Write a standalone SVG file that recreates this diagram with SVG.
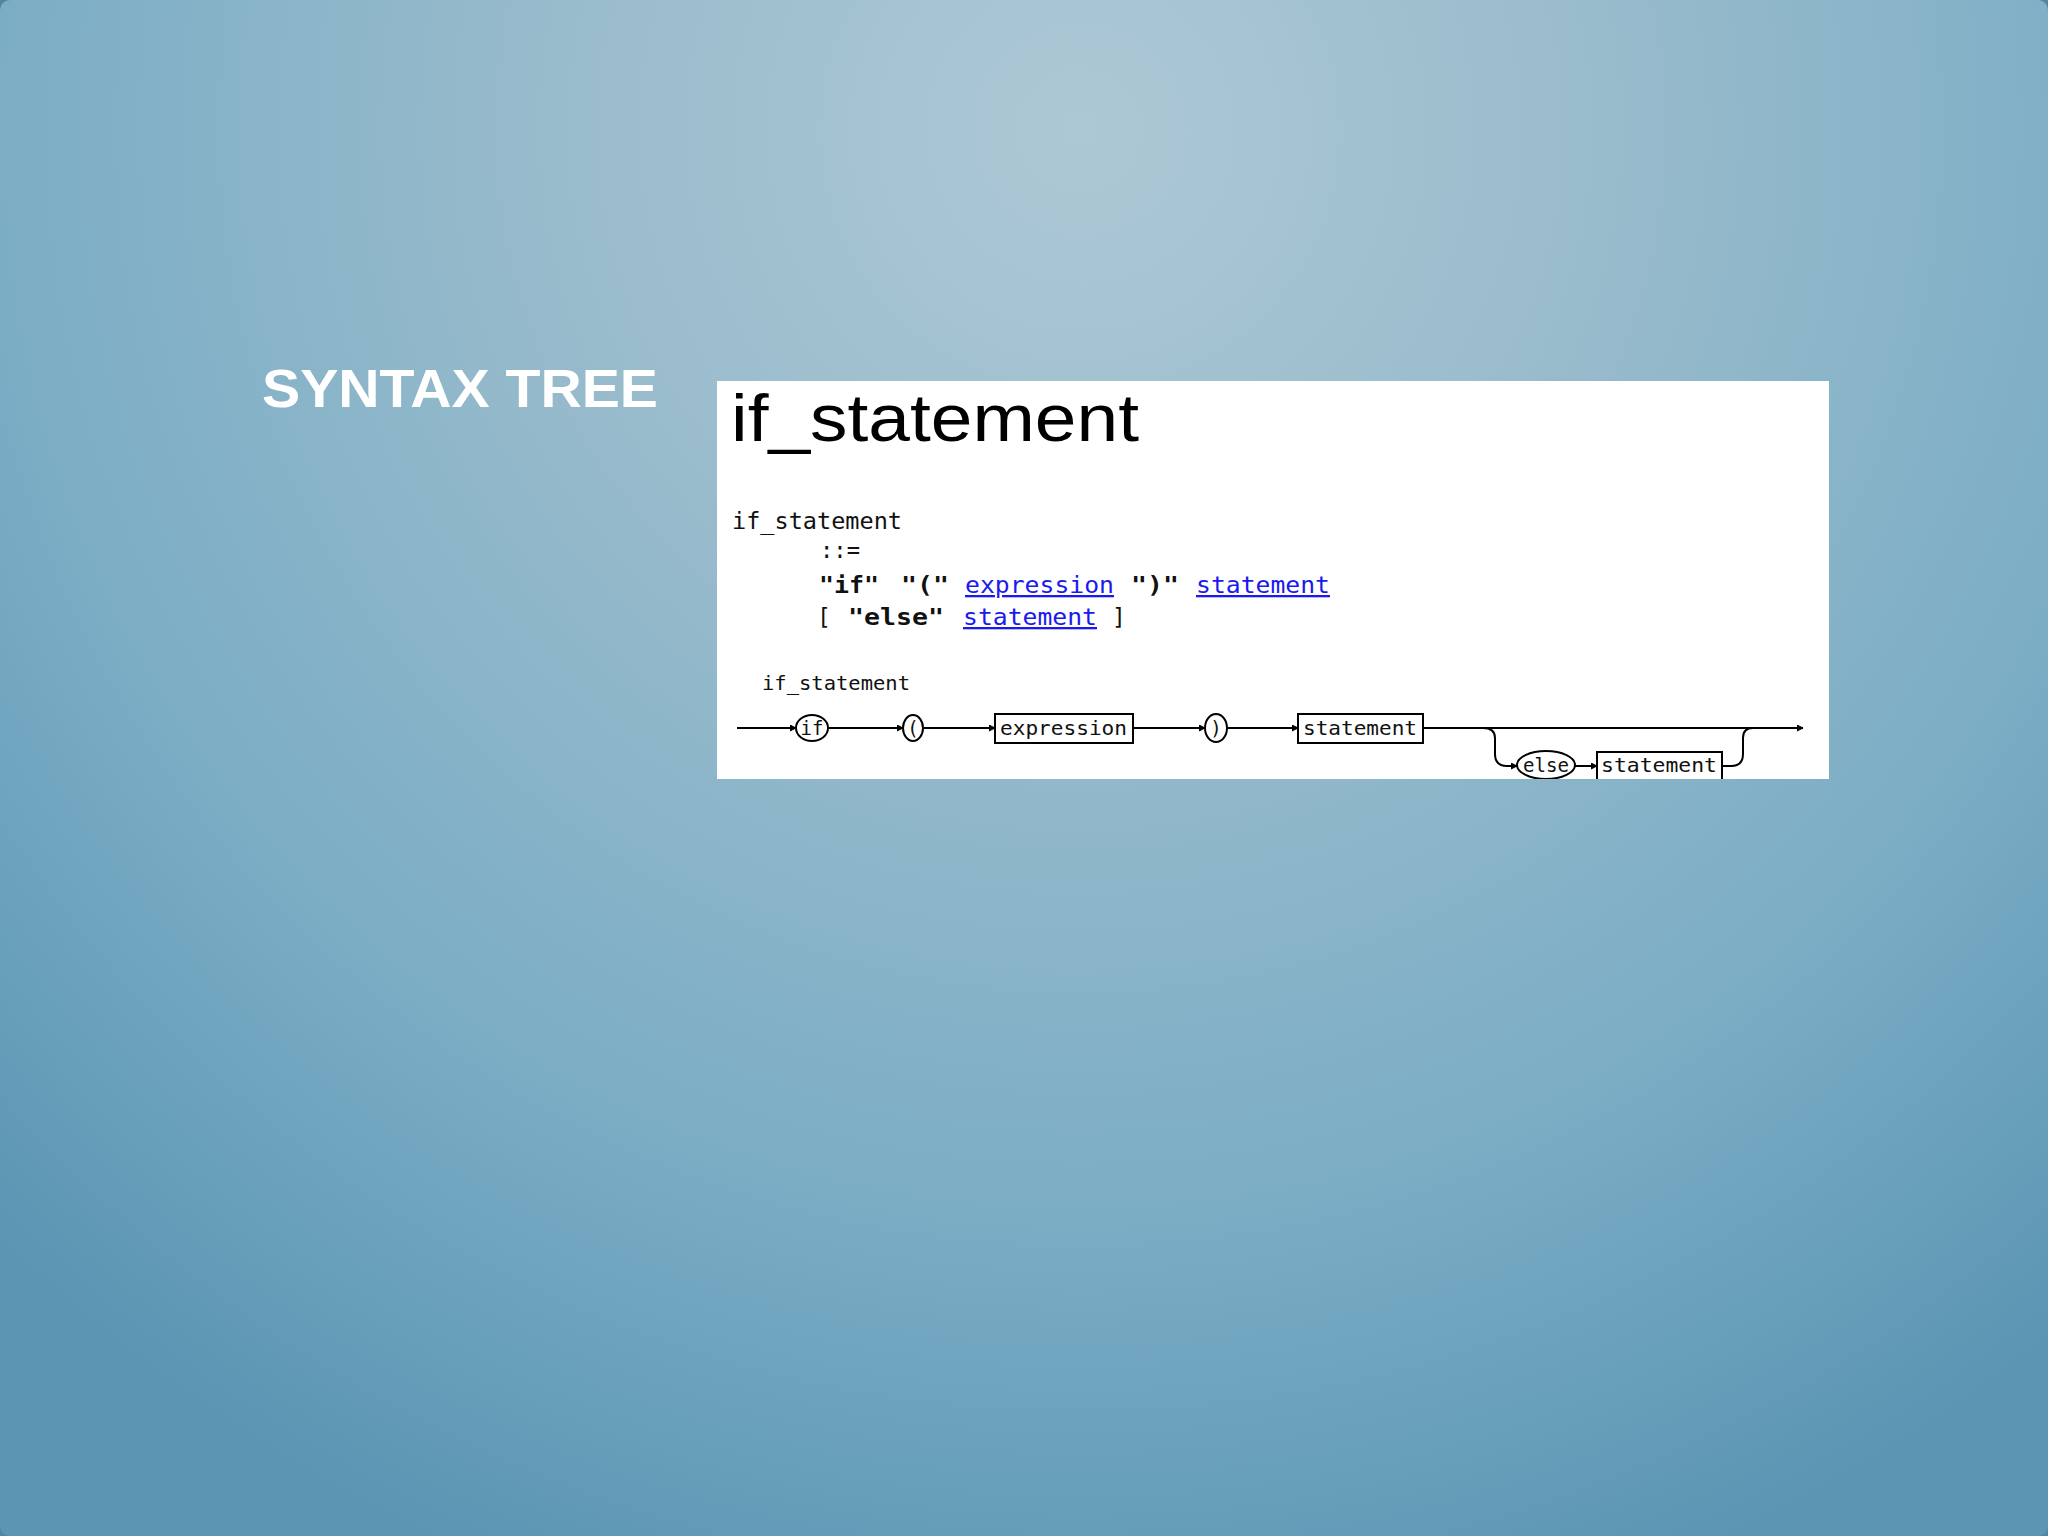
<svg xmlns="http://www.w3.org/2000/svg" width="2048" height="1536" viewBox="0 0 2048 1536">
  <defs>
    <radialGradient id="bg" gradientUnits="userSpaceOnUse" cx="1080" cy="130" r="1550">
      <stop offset="0" stop-color="#adc8d5"/>
      <stop offset="0.35" stop-color="#98bbcc"/>
      <stop offset="0.7" stop-color="#7badc5"/>
      <stop offset="1" stop-color="#5b95b3"/>
    </radialGradient>
    <clipPath id="boxclip">
      <rect x="717" y="381" width="1112" height="398"/>
    </clipPath>
    <marker id="arr" markerUnits="userSpaceOnUse" markerWidth="8" markerHeight="8" refX="6" refY="3" orient="auto">
      <path d="M0,0 L6,3 L0,6 Z" fill="#000" stroke="#000" stroke-width="1"/>
    </marker>
    <style>
      .mono { font-family: "DejaVu Sans Mono", "Liberation Mono", monospace; fill: #111; }
      .g { font-size: 23px; }
      .gb { font-size: 23px; font-weight: bold; }
      .link { fill: #1a1aee; text-decoration: underline; }
      .d { font-size: 19px; }
      .line { fill: none; stroke: #000; stroke-width: 2; }
      .shape { fill: #fff; stroke: #000; stroke-width: 2; }
    </style>
  </defs>

  <rect x="0" y="0" width="2048" height="1536" fill="#4f86a3"/>
  <rect x="0" y="0" width="2048" height="1536" rx="10" fill="url(#bg)"/>

  <g id="slide-title">
    <text x="262" y="407" font-family="Liberation Sans, Arial, sans-serif" font-weight="bold" font-size="53" fill="#fff" textLength="396" lengthAdjust="spacingAndGlyphs">SYNTAX TREE</text>
  </g>

  <g id="panel">
    <rect x="717" y="381" width="1112" height="398" fill="#fff"/>
    <text x="731" y="441" font-family="Liberation Sans, Arial, sans-serif" font-size="66" fill="#000" textLength="408" lengthAdjust="spacingAndGlyphs">if_statement</text>
  </g>

  <g id="grammar" class="mono">
    <text class="g" x="732" y="529" textLength="170" lengthAdjust="spacingAndGlyphs">if_statement</text>
    <text class="g" x="820" y="558" textLength="40" lengthAdjust="spacingAndGlyphs">::=</text>
    <text class="gb" x="819" y="593" textLength="60" lengthAdjust="spacingAndGlyphs">"if"</text>
    <text class="gb" x="901" y="593" textLength="48" lengthAdjust="spacingAndGlyphs">"("</text>
    <text class="g link" x="965" y="593" textLength="149" lengthAdjust="spacingAndGlyphs">expression</text>
    <text class="gb" x="1131" y="593" textLength="48" lengthAdjust="spacingAndGlyphs">")"</text>
    <text class="g link" x="1196" y="593" textLength="134" lengthAdjust="spacingAndGlyphs">statement</text>
    <text class="g" x="817" y="625">[</text>
    <text class="gb" x="848" y="625" textLength="96" lengthAdjust="spacingAndGlyphs">"else"</text>
    <text class="g link" x="963" y="625" textLength="134" lengthAdjust="spacingAndGlyphs">statement</text>
    <text class="g" x="1112" y="625">]</text>
  </g>

  <g id="railroad" clip-path="url(#boxclip)">
    <text class="mono d" x="762" y="690" textLength="148" lengthAdjust="spacingAndGlyphs">if_statement</text>

    <g id="connectors">
      <line class="line" x1="737" y1="728" x2="796" y2="728" marker-end="url(#arr)"/>
      <line class="line" x1="829" y1="728" x2="903" y2="728" marker-end="url(#arr)"/>
      <line class="line" x1="924" y1="728" x2="995" y2="728" marker-end="url(#arr)"/>
      <line class="line" x1="1133" y1="728" x2="1205" y2="728" marker-end="url(#arr)"/>
      <line class="line" x1="1227" y1="728" x2="1298" y2="728" marker-end="url(#arr)"/>
      <line class="line" x1="1423" y1="728" x2="1803" y2="728" marker-end="url(#arr)"/>
      <path class="line" d="M1483,728 Q1495,728 1495,738 L1495,754 Q1495,766 1507,766 L1517,766" marker-end="url(#arr)"/>
      <line class="line" x1="1575" y1="766" x2="1597" y2="766" marker-end="url(#arr)"/>
      <path class="line" d="M1722,766 L1731,766 Q1743,766 1743,754 L1743,738 Q1743,728 1753,728"/>
    </g>

    <g id="node-if">
      <ellipse class="shape" cx="812" cy="728" rx="16" ry="13"/>
      <text class="mono d" x="812" y="735" text-anchor="middle">if</text>
    </g>
    <g id="node-lparen">
      <ellipse class="shape" cx="913" cy="728" rx="10" ry="13"/>
      <text class="mono d" x="913" y="735" text-anchor="middle">(</text>
    </g>
    <g id="node-expression">
      <rect class="shape" x="995" y="714" width="138" height="29"/>
      <text class="mono d" x="1000" y="735" textLength="127" lengthAdjust="spacingAndGlyphs">expression</text>
    </g>
    <g id="node-rparen">
      <ellipse class="shape" cx="1216" cy="728" rx="11" ry="14"/>
      <text class="mono d" x="1216" y="735" text-anchor="middle">)</text>
    </g>
    <g id="node-statement">
      <rect class="shape" x="1298" y="714" width="125" height="29"/>
      <text class="mono d" x="1303" y="735" textLength="114" lengthAdjust="spacingAndGlyphs">statement</text>
    </g>
    <g id="node-else">
      <ellipse class="shape" cx="1546" cy="765" rx="29" ry="14"/>
      <text class="mono d" x="1546" y="772" text-anchor="middle" textLength="46" lengthAdjust="spacingAndGlyphs">else</text>
    </g>
    <g id="node-statement2">
      <rect class="shape" x="1597" y="752" width="125" height="29"/>
      <text class="mono d" x="1601" y="772" textLength="116" lengthAdjust="spacingAndGlyphs">statement</text>
    </g>
  </g>
</svg>
